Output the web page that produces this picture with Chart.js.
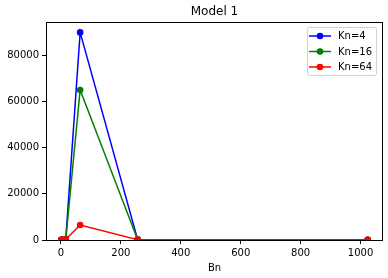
<!DOCTYPE html>
<html>
<head>
<meta charset="utf-8">
<script src="https://cdn.jsdelivr.net/npm/chart.js@4"></script>
<style>
  html, body { margin: 0; padding: 0; background: #fff; }
  #wrap { width: 388px; height: 278px; }
</style>
</head>
<body>
<div id="wrap"><canvas id="c" width="388" height="278"></canvas></div>
<script>
// values
const bn = [1, 4, 16, 64, 256, 1024];
const kn4 = [50, 80, 300, 90000, 150, 40];
const kn16 = [50, 80, 300, 65000, 150, 40];
const kn64 = [50, 80, 300, 6500, 150, 40];
const seriesNames = ['Kn=4', 'Kn=16', 'Kn=64'];
const xTicks = [0, 200, 400, 600, 800, 1000];
const yTicks = [0, 20000, 40000, 60000, 80000];

const FONT = 'DejaVu Sans';
const COLS = ['#0000ff', '#008000', '#ff0000'];

const pts = ys => bn.map((x, i) => ({ x, y: ys[i] }));

const frame = {
  id: 'frame',
  afterDraw(chart) {
    const { ctx, chartArea: a } = chart;
    ctx.save();
    ctx.strokeStyle = '#000';
    ctx.lineWidth = 1;
    ctx.strokeRect(a.left + 0.5, a.top + 0.5, a.right - a.left - 1, a.bottom - a.top);

    // title
    ctx.fillStyle = '#000';
    ctx.font = `12px "${FONT}"`;
    ctx.textAlign = 'center';
    ctx.textBaseline = 'middle';
    ctx.fillText('Model 1', (a.left + a.right) / 2, 12);

    // legend box
    const bx = 307, by = 27, bw = 69, bh = 48;
    ctx.fillStyle = 'rgba(255,255,255,0.8)';
    ctx.strokeStyle = '#d0d0d0';
    ctx.beginPath();
    ctx.roundRect(bx + 0.5, by + 0.5, bw, bh, 2);
    ctx.fill();
    ctx.stroke();
    ctx.font = `10px "${FONT}"`;
    ctx.textAlign = 'left';
    seriesNames.forEach((name, i) => {
      const y = 36 + i * 15.5;
      ctx.strokeStyle = COLS[i];
      ctx.lineWidth = 1.5;
      ctx.beginPath();
      ctx.moveTo(309, y);
      ctx.lineTo(331, y);
      ctx.stroke();
      ctx.fillStyle = COLS[i];
      ctx.beginPath();
      ctx.arc(320, y, 3.3, 0, Math.PI * 2);
      ctx.fill();
      ctx.fillStyle = '#000';
      ctx.fillText(name, 338, y + 0.5);
    });
    ctx.restore();
  }
};

const mkSet = (label, ys, i) => ({
  label,
  data: pts(ys),
  borderColor: COLS[i],
  backgroundColor: COLS[i],
  borderWidth: 1.5,
  pointRadius: 3.3,
  pointHoverRadius: 3.3,
  pointBorderWidth: 0,
  tension: 0,
  order: 3 - i,
});

new Chart(document.getElementById('c'), {
  type: 'line',
  data: {
    datasets: [
      mkSet(seriesNames[0], kn4, 0),
      mkSet(seriesNames[1], kn16, 1),
      mkSet(seriesNames[2], kn64, 2),
    ]
  },
  options: {
    responsive: false,
    animation: false,
    layout: { padding: { top: 22, right: 5, left: 0, bottom: 4 } },
    plugins: { legend: { display: false }, title: { display: false }, tooltip: { enabled: false } },
    scales: {
      x: {
        type: 'linear',
        min: -50,
        max: 1075,
        afterBuildTicks: s => { s.ticks = xTicks.map(v => ({ value: v })); },
        afterFit: s => { s.height = 34; },
        ticks: { color: '#000', font: { family: FONT, size: 10 }, padding: 3, maxRotation: 0, callback: v => String(v) },
        grid: { drawOnChartArea: false, drawTicks: true, tickLength: 4, color: '#000' },
        border: { display: false },
        title: { display: true, text: 'Bn', color: '#000', font: { family: FONT, size: 10 }, padding: { top: 0, bottom: 0 } },
      },
      y: {
        min: 0,
        max: 94500,
        afterBuildTicks: s => { s.ticks = yTicks.map(v => ({ value: v })); },
        afterFit: s => { s.width = 46; },
        ticks: { color: '#000', font: { family: FONT, size: 10 }, padding: 3, callback: v => String(v) },
        grid: { drawOnChartArea: false, drawTicks: true, tickLength: 4, color: '#000' },
        border: { display: false },
      }
    }
  },
  plugins: [frame]
});
</script>
</body>
</html>
